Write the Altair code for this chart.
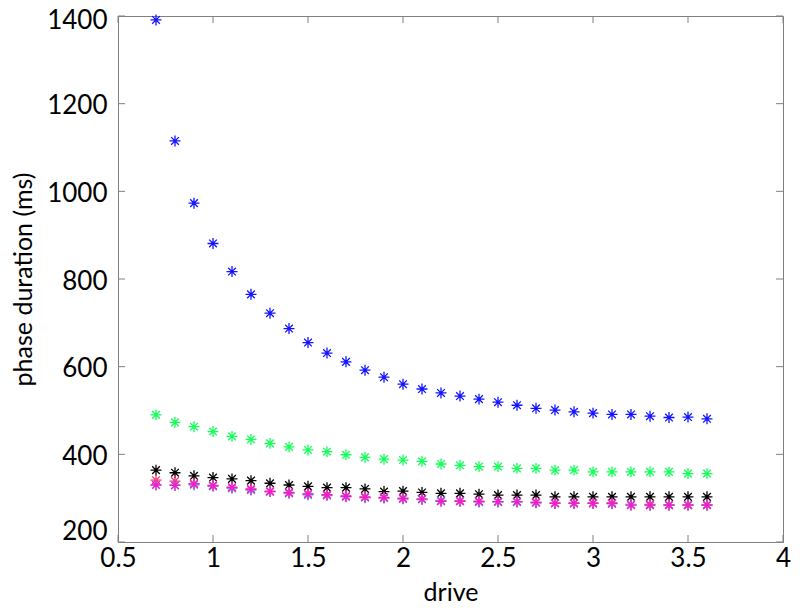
import altair as alt
import pandas as pd

drive = [round(0.7 + 0.1 * i, 1) for i in range(30)]
blue = [1391, 1115, 973, 881, 817, 765, 722, 687, 655, 631, 611, 592, 576, 560, 549,
        540, 533, 526, 519, 512, 505, 501, 497, 494, 491, 491, 487, 484, 485, 481]
green = [490, 473, 463, 452, 441, 434, 425, 417, 410, 406, 399, 393, 389, 387, 384,
         378, 375, 372, 372, 368, 368, 364, 364, 360, 360, 360, 360, 360, 356, 356]
black = [364, 358, 351, 347, 344, 340, 334, 330, 327, 324, 324, 321, 315, 316, 313,
         311, 311, 309, 307, 307, 307, 303, 303, 303, 303, 303, 303, 303, 303, 303]
red = [341, 339, 333, 329, 325, 321, 316, 313, 310, 308, 305, 303, 302, 300, 298,
       294, 294, 293, 292, 292, 291, 289, 289, 289, 289, 286, 286, 285, 285, 285]
cyan = [331, 330, 330, 327, 322, 318, 315, 311, 307, 306, 303, 301, 300, 298, 297,
        295, 293, 291, 291, 291, 289, 288, 288, 288, 287, 285, 284, 284, 284, 284]
magenta = [330, 329, 332, 328, 324, 320, 315, 312, 309, 307, 304, 302, 301, 299, 298,
           293, 293, 292, 292, 292, 290, 288, 288, 288, 288, 284, 284, 284, 284, 284]

series_names = ["blue", "green", "black", "red", "cyan", "magenta"]
series_colors = ["#1414ff", "#14ff5a", "#000000", "#ff3060", "#40c8ff", "#ff14c8"]
x_ticks = [0.5, 1, 1.5, 2, 2.5, 3, 3.5, 4]
y_ticks = [200, 400, 600, 800, 1000, 1200, 1400]

rows = []
for order, (name, vals) in enumerate(zip(series_names, [blue, green, black, red, cyan, magenta])):
    for d, v in zip(drive, vals):
        rows.append({"drive": d, "value": v, "series": name, "order": order})
df = pd.DataFrame(rows)

W, H = 665, 526
FONT = "Lato"
AXIS_COLOR = "#808080"
TL = 7

xscale = alt.Scale(domain=[0.5, 4], nice=False, zero=False)
yscale = alt.Scale(domain=[200, 1400], nice=False, zero=False)

star = "M-1,0L1,0M0,-1L0,1M-0.7,-0.7L0.7,0.7M-0.7,0.7L0.7,-0.7"

points = alt.Chart(df).mark_point(shape=star, filled=False, strokeWidth=1.3, size=120, opacity=1).encode(
    x=alt.X("drive:Q", scale=xscale,
            axis=alt.Axis(values=x_ticks, title="drive", ticks=False, labelFontSize=26,
                          titleFontSize=25, labelFont=FONT, titleFont=FONT, labelColor="black",
                          titleColor="black", titleFontWeight="normal", labelPadding=3,
                          titlePadding=9, domainColor=AXIS_COLOR, grid=False,
                          labelFlush=False, format="~g")),
    y=alt.Y("value:Q", scale=yscale,
            axis=alt.Axis(values=y_ticks, title="phase duration (ms)", ticks=False, labelFontSize=26,
                          titleFontSize=25, labelFont=FONT, titleFont=FONT, labelColor="black",
                          titleColor="black", titleFontWeight="normal", labelPadding=11,
                          labelOffset={"expr": "datum.value === 200 ? -11 : (datum.value === 1400 ? 4 : 2)"},
                          titlePadding=10, domainColor=AXIS_COLOR, grid=False,
                          labelFlush=False, format="d")),
    color=alt.Color("series:N", scale=alt.Scale(domain=series_names, range=series_colors), legend=None),
    order=alt.Order("order:Q"),
)

xt = pd.DataFrame({"t": x_ticks})
yt = pd.DataFrame({"t": y_ticks})
tick_props = dict(color=AXIS_COLOR, strokeWidth=1)

xb = alt.Chart(xt).mark_rule(**tick_props).encode(
    x=alt.X("t:Q", scale=xscale), y=alt.value(H), y2=alt.value(H - TL))
xtop = alt.Chart(xt).mark_rule(**tick_props).encode(
    x=alt.X("t:Q", scale=xscale), y=alt.value(0), y2=alt.value(TL))
yl = alt.Chart(yt).mark_rule(**tick_props).encode(
    y=alt.Y("t:Q", scale=yscale), x=alt.value(0), x2=alt.value(TL))
yr = alt.Chart(yt).mark_rule(**tick_props).encode(
    y=alt.Y("t:Q", scale=yscale), x=alt.value(W), x2=alt.value(W - TL))

chart = alt.layer(xb, xtop, yl, yr, points).properties(
    width=W, height=H,
    autosize=alt.AutoSizeParams(type="none"),
    padding={"left": 110, "top": 8, "right": 9, "bottom": 64},
).configure_view(stroke=AXIS_COLOR, strokeWidth=1)

chart.save("out.html", embed_options={"renderer": "svg", "actions": False})
